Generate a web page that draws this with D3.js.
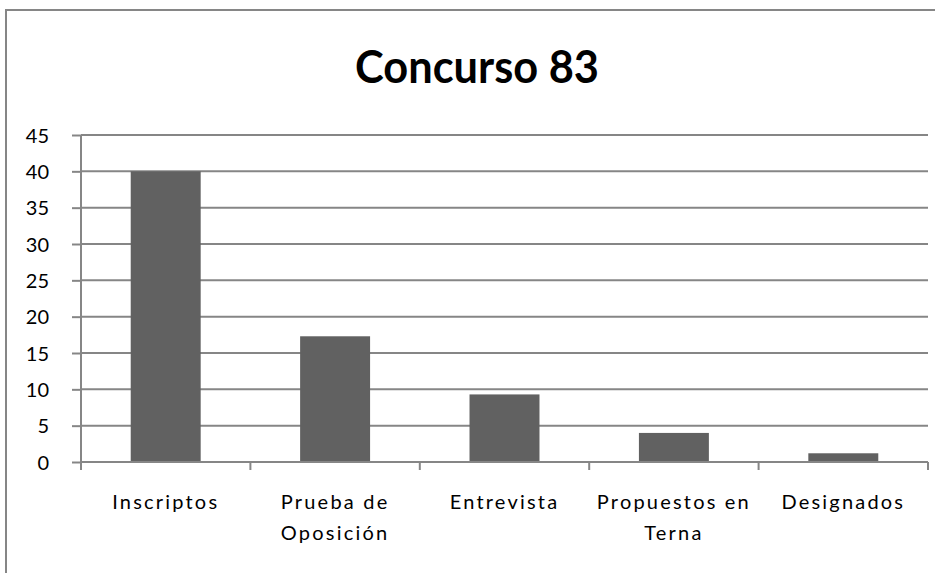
<!DOCTYPE html>
<html>
<head>
<meta charset="utf-8">
<script src="https://cdn.jsdelivr.net/npm/d3@7"></script>
<style>
  html, body { margin: 0; padding: 0; background: #fff; }
  svg { display: block; }
  text { font-family: Lato, "Open Sans", sans-serif; fill: #000; }
</style>
</head>
<body>
<svg id="chart" width="935" height="573"></svg>
<script>
const title = "Concurso 83";
const categories = [["Inscriptos"], ["Prueba de", "Oposición"], ["Entrevista"], ["Propuestos en", "Terna"], ["Designados"]];
const categoryKeys = ["Inscriptos", "Prueba de Oposición", "Entrevista", "Propuestos en Terna", "Designados"];
const values = [40, 17.3, 9.3, 4, 1.2];
const yTicks = [0, 5, 10, 15, 20, 25, 30, 35, 40, 45];

const svg = d3.select("#chart");
const plot = { left: 81, right: 928, top: 135, bottom: 462 };
const gridColor = "#868686";

// outer border
svg.append("rect")
  .attr("x", 6).attr("y", 10)
  .attr("width", 960).attr("height", 600)
  .attr("fill", "none").attr("stroke", gridColor).attr("stroke-width", 2);

// title
svg.append("text")
  .attr("x", 477).attr("y", 83)
  .attr("text-anchor", "middle")
  .style("font-size", "45px").style("font-weight", "bold")
  .attr("textLength", 244).attr("lengthAdjust", "spacingAndGlyphs")
  .text(title);

const x = d3.scaleBand().domain(categoryKeys)
  .range([plot.left, plot.right])
  .paddingInner(0.587).paddingOuter(0.2935);
const xCat = d3.scaleBand().domain(categoryKeys)
  .range([plot.left, plot.right]).padding(0);
const y = d3.scaleLinear().domain([0, 45]).range([plot.bottom, plot.top]);

// gridlines
svg.append("g").selectAll("line").data(yTicks.filter(d => d > 0)).join("line")
  .attr("x1", plot.left).attr("x2", plot.right)
  .attr("y1", d => y(d)).attr("y2", d => y(d))
  .attr("stroke", gridColor).attr("stroke-width", 2);

// bars
svg.append("g").selectAll("rect").data(values).join("rect")
  .attr("x", (d, i) => x(categoryKeys[i]))
  .attr("width", x.bandwidth())
  .attr("y", d => y(d))
  .attr("height", d => y(0) - y(d))
  .attr("fill", "#616161");

// y axis
const yAxis = d3.axisLeft(y).tickValues(yTicks).tickSize(9).tickPadding(23).tickFormat(d3.format("d"));
const gy = svg.append("g").attr("transform", `translate(${plot.left},0)`).call(yAxis);
gy.select(".domain").attr("stroke", gridColor).attr("stroke-width", 2).attr("d", `M0,${plot.bottom}V${plot.top}`);
gy.selectAll(".tick line").attr("stroke", gridColor).attr("stroke-width", 2);
gy.selectAll(".tick text").style("font-size", "20px").style("font-family", "Lato, sans-serif").attr("fill", "#000").attr("dy", "0.35em");

// x axis line & ticks
svg.append("line").attr("x1", plot.left).attr("x2", plot.right)
  .attr("y1", plot.bottom).attr("y2", plot.bottom)
  .attr("stroke", gridColor).attr("stroke-width", 2);
const bounds = categoryKeys.map(k => xCat(k)).concat([plot.right]);
svg.append("g").selectAll("line").data(bounds).join("line")
  .attr("x1", d => d).attr("x2", d => d)
  .attr("y1", plot.bottom).attr("y2", plot.bottom + 8)
  .attr("stroke", gridColor).attr("stroke-width", 2);

// x labels
const lbl = svg.append("g").selectAll("text").data(categories).join("text")
  .attr("text-anchor", "middle")
  .attr("x", (d, i) => xCat(categoryKeys[i]) + xCat.bandwidth() / 2)
  .attr("y", 509)
  .style("font-size", "20px").style("letter-spacing", "2.2px");
lbl.selectAll("tspan").data(d => d).join("tspan")
  .attr("x", function() { return this.parentNode.getAttribute("x"); })
  .attr("dy", (d, i) => i === 0 ? 0 : 31)
  .text(d => d);
</script>
</body>
</html>
